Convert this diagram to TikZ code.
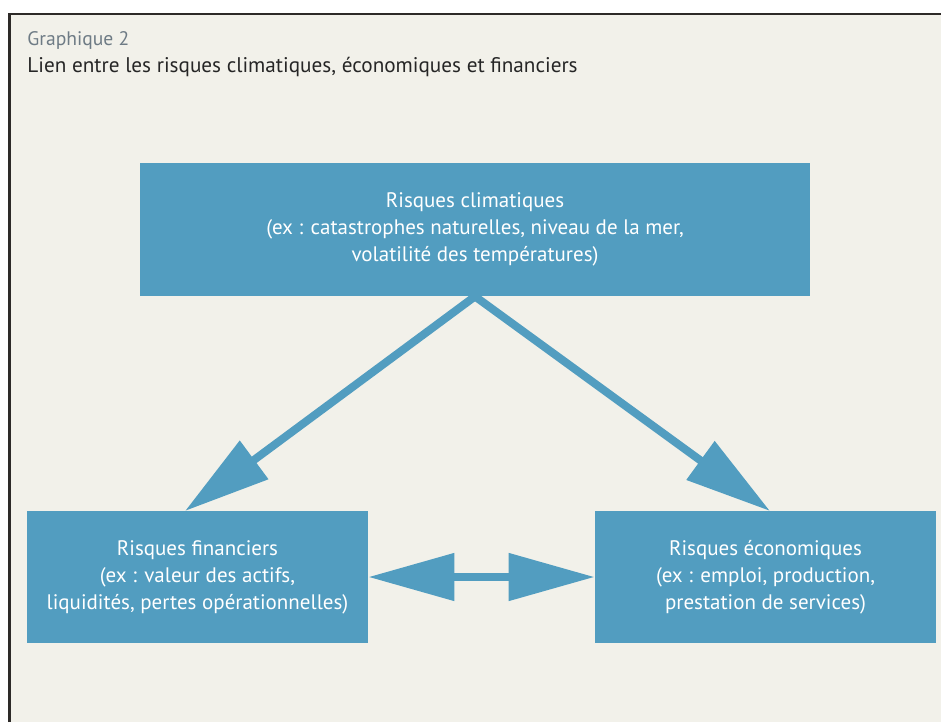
\documentclass[tikz,border=0pt]{standalone}
\usepackage{fontspec}
\setmainfont{PT Sans}
\usetikzlibrary{arrows.meta}

\definecolor{fond}{RGB}{242,241,234}
\definecolor{bleu}{RGB}{82,157,192}
\definecolor{gris}{RGB}{110,123,133}
\definecolor{cadre}{RGB}{45,42,40}

\tikzset{
  risque/.style={fill=bleu,text=white,align=center,inner sep=0pt,
    font=\fontsize{10.5}{13.5}\selectfont},
  lien/.style={draw=bleu,line width=4pt,
    -{Triangle[length=43pt,width=23pt]}},
  lienbi/.style={draw=bleu,line width=4pt,
    {Triangle[length=43pt,width=23pt]}-{Triangle[length=43pt,width=23pt]}}
}

\begin{document}
\begin{tikzpicture}[x=0.5pt,y=-0.5pt]

\useasboundingbox (0,0) rectangle (941,722);

% background and frame
\fill[fond] (8,13) rectangle (941,722);
\draw[cadre,line width=1.3pt] (9.5,722)--(9.5,14)--(941,14);

% titles
\node (num) [anchor=base west,text=gris,inner sep=0pt,font=\fontsize{9.8}{11}\selectfont]
  at (27,46) {Graphique 2};
\node (titre) [anchor=base west,text=black!85,inner sep=0pt,font=\fontsize{10.6}{13}\selectfont]
  at (27,73) {Lien entre les risques climatiques, économiques et financiers};

% boxes
\node (clim) [risque,minimum width=335pt,minimum height=66.5pt] at (475,229.5)
  {Risques climatiques\\(ex : catastrophes naturelles, niveau de la mer,\\volatilité des températures)};
\node (fin) [risque,minimum width=170.5pt,minimum height=66pt] at (197.5,577)
  {Risques financiers\\(ex : valeur des actifs,\\liquidités, pertes opérationnelles)};
\node (eco) [risque,minimum width=170.5pt,minimum height=66pt] at (765.5,577)
  {Risques économiques\\(ex : emploi, production,\\prestation de services)};

% arrow tips on the lower boxes
\coordinate (finpt) at (185,511);
\coordinate (ecopt) at (770,511);

% arrows
\draw[lien] (clim.south) -- (finpt);
\draw[lien] (clim.south) -- (ecopt);
\draw[lienbi] (fin.east) -- (eco.west);

\end{tikzpicture}
\end{document}
